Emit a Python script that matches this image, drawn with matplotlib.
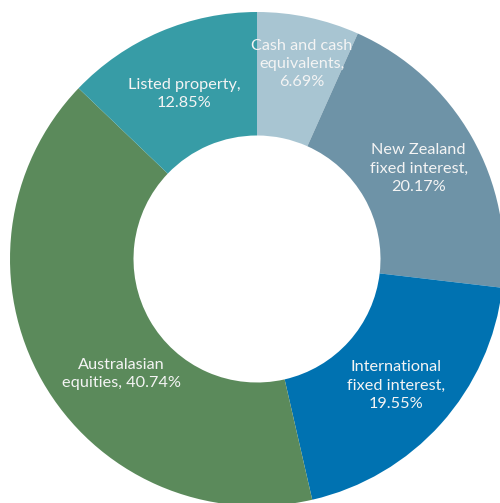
import numpy as np
import matplotlib.pyplot as plt

plt.rcParams['font.family'] = ['Lato', 'DejaVu Sans']

# portfolio allocation, clockwise from 12 o'clock
categories = ['Cash and cash\nequivalents,', 'New Zealand\nfixed interest,',
              'International\nfixed interest,', 'Australasian\nequities,',
              'Listed property,']
values = [6.69, 20.17, 19.55, 40.74, 12.85]
colors = ['#a8c5d2', '#6e93a7', '#0072b1', '#5b8a5b', '#379ca6']

# label placement tweaks (radius as fraction of outer radius, angle shift in degrees)
label_r = [0.81, 0.75, 0.76, 0.72, 0.73]
label_shift = [-1.0, -0.4, -0.5, 10.6, 0.6]

fig = plt.figure(figsize=(5.0, 5.03), dpi=100)
cx, cy, R = 257, 259, 247
ax = fig.add_axes([(cx - R) / 500, (503 - cy - R) / 503, 2 * R / 500, 2 * R / 503])

wedges, _ = ax.pie(values, colors=colors, startangle=90, counterclock=False,
                   radius=1.0, wedgeprops=dict(width=0.5, linewidth=0))

for i, w in enumerate(wedges):
    ang = np.deg2rad((w.theta1 + w.theta2) / 2 + label_shift[i])
    x = label_r[i] * np.cos(ang)
    y = label_r[i] * np.sin(ang)
    cat = categories[i]
    if cat.endswith('equities,'):
        txt = f'{cat} {values[i]:.2f}%'
    else:
        txt = f'{cat}\n{values[i]:.2f}%'
    ax.text(x, y, txt, ha='center', va='center', color='#f4f4f4',
            fontsize=11.7, linespacing=1.4)

ax.set_xlim(-1, 1)
ax.set_ylim(-1, 1)
ax.set_aspect('auto')
ax.axis('off')

fig.savefig('out.png', dpi=100)
